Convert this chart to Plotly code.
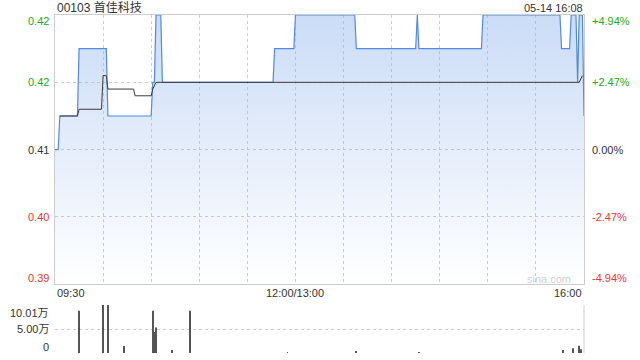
import plotly.graph_objects as go

# Intraday minutes since 09:30 (lunch break removed: 0..150 morning, 150..330 afternoon)
price_min = [0, 2, 3, 14, 15, 32, 33, 60, 61, 62, 63, 66, 67, 136, 137, 149, 150,
             187, 188, 225, 226, 227, 266, 267, 315, 316, 321, 322, 325, 326, 327,
             329, 330]
price_val = [0.405, 0.405, 0.41, 0.41, 0.42, 0.42, 0.41, 0.41, 0.415, 0.415, 0.425,
             0.425, 0.415, 0.415, 0.42, 0.42, 0.425, 0.425, 0.42, 0.42, 0.425, 0.42,
             0.42, 0.425, 0.425, 0.42, 0.42, 0.425, 0.425, 0.415, 0.425, 0.425, 0.41]

avg_min = [3, 14, 15, 29, 30, 32, 33, 49, 50, 60, 61, 63, 327, 329]
avg_val = [0.41, 0.41, 0.411, 0.411, 0.416, 0.416, 0.414, 0.414, 0.413, 0.413,
           0.414, 0.415, 0.415, 0.416]

vol_min = [15, 30, 33, 43, 61, 62, 63, 73, 84, 145, 188, 227, 317, 323, 327, 328]
vol_val = [88000, 100000, 100100, 14600, 88000, 44000, 53000, 6000, 88000, 2000,
           3500, 2000, 6000, 10000, 15000, 8000]

prev_close = 0.405
price_ticks = [0.425, 0.415, 0.405, 0.395, 0.385]
price_labels = ["0.42", "0.42", "0.41", "0.40", "0.39"]
pct_labels = ["+4.94%", "+2.47%", "0.00%", "-2.47%", "-4.94%"]
vol_ticks = [100100, 50000, 0]
vol_labels = ["10.01万", "5.00万", "0"]
time_ticks = [0, 150, 330]
time_labels = ["09:30", "12:00/13:00", "16:00"]

GREEN = "#22aa22"
RED = "#ee3333"
DARK = "#333333"
GRID = "#cccccc"
FONT = "Arial, Liberation Sans, Noto Sans CJK SC, sans-serif"

W, H = 640, 360
px = lambda v: v / W
py = lambda v: 1 - v / H

fig = go.Figure()

# price line with a translucent vertical gradient fill so the grid stays visible
fig.add_trace(go.Scatter(
    x=price_min, y=price_val, mode="lines",
    line=dict(color="#5089e6", width=1.2),
    fill="tozeroy",
    fillgradient=dict(type="vertical", start=0.385, stop=0.425,
                      colorscale=[[0, "rgba(150,185,238,0)"], [1, "rgba(150,185,238,0.5)"]]),
    xaxis="x", yaxis="y", hoverinfo="skip"))

# average price line
fig.add_trace(go.Scatter(
    x=avg_min, y=avg_val, mode="lines",
    line=dict(color="#3a3a3a", width=1),
    xaxis="x", yaxis="y", hoverinfo="skip"))

# volume
fig.add_trace(go.Bar(
    x=vol_min, y=vol_val, width=0.5,
    marker=dict(color="#555555", line=dict(width=0)),
    xaxis="x2", yaxis="y2", hoverinfo="skip"))

fig.update_layout(
    width=W, height=H,
    margin=dict(l=0, r=0, t=0, b=0),
    paper_bgcolor="white", plot_bgcolor="rgba(0,0,0,0)",
    showlegend=False,
    font=dict(family=FONT, size=11, color=DARK),
    xaxis=dict(domain=[px(55), px(584)], range=[0, 330], anchor="y",
               tickvals=list(range(30, 330, 30)), showticklabels=False,
               showgrid=True, gridcolor=GRID, griddash="dot", gridwidth=1,
               showline=True, mirror=True, linecolor=GRID, linewidth=1,
               zeroline=False, ticks=""),
    yaxis=dict(domain=[py(284.3), py(15)], range=[0.385, 0.425], anchor="x",
               tickvals=[0.395, 0.405, 0.415], showticklabels=False,
               showgrid=True, gridcolor=GRID, griddash="dot", gridwidth=1,
               showline=True, mirror=True, linecolor=GRID, linewidth=1,
               zeroline=False, ticks=""),
    xaxis2=dict(domain=[px(55), px(584)], range=[0, 330], anchor="y2",
                showticklabels=False, showgrid=False, zeroline=False,
                showline=False, ticks=""),
    yaxis2=dict(domain=[py(353), py(305)], range=[0, 100100], anchor="x2",
                tickvals=[0, 50000, 100100], showticklabels=False,
                showgrid=True, gridcolor=GRID, griddash="dot", gridwidth=1,
                zeroline=False, showline=False, ticks=""),
)

# right border of the volume panel
fig.add_shape(type="line", xref="x2 domain", yref="y2 domain",
              x0=1, x1=1, y0=0, y1=1, line=dict(color=GRID, width=1))

ann = []
# header
ann.append(dict(text="00103 首佳科技", x=px(55), y=py(8), xref="paper", yref="paper",
                xanchor="left", yanchor="middle", showarrow=False,
                font=dict(size=12, color=DARK)))
ann.append(dict(text="05-14 16:08", x=px(585), y=py(8), xref="paper", yref="paper",
                xanchor="right", yanchor="middle", showarrow=False,
                font=dict(size=11, color=DARK)))

# price and percent labels
for v, lab, pct in zip(price_ticks, price_labels, pct_labels):
    if v > prev_close + 1e-9:
        col = GREEN
    elif v < prev_close - 1e-9:
        col = RED
    else:
        col = DARK
    shift = -6 if v == max(price_ticks) else (6.5 if v == min(price_ticks) else 0)
    ann.append(dict(text=lab, x=px(51), y=v, xref="paper", yref="y",
                    xanchor="right", yanchor="middle", yshift=shift,
                    showarrow=False, font=dict(size=11, color=col)))
    ann.append(dict(text=pct, x=px(590), y=v, xref="paper", yref="y",
                    xanchor="left", yanchor="middle", yshift=shift,
                    showarrow=False, font=dict(size=11, color=col)))

# time labels
for t, lab in zip(time_ticks, time_labels):
    xa = "left" if t == time_ticks[0] else ("right" if t == time_ticks[-1] else "center")
    ann.append(dict(text=lab, x=t, y=py(293), xref="x", yref="paper",
                    xanchor=xa, yanchor="middle", showarrow=False,
                    font=dict(size=11, color=DARK)))

# volume labels
for v, lab in zip(vol_ticks, vol_labels):
    shift = -8 if v == max(vol_ticks) else (6 if v == 0 else 0)
    ann.append(dict(text=lab, x=px(51), y=v, xref="paper", yref="y2",
                    xanchor="right", yanchor="middle", yshift=shift,
                    showarrow=False, font=dict(size=11, color=DARK)))

# watermark
ann.append(dict(text="sina.com", x=px(573), y=py(279), xref="paper", yref="paper",
                xanchor="right", yanchor="middle", showarrow=False,
                font=dict(size=11, color="#d0d0d0")))

fig.update_layout(annotations=ann)

fig.write_html("out.html", config=dict(displayModeBar=False))
